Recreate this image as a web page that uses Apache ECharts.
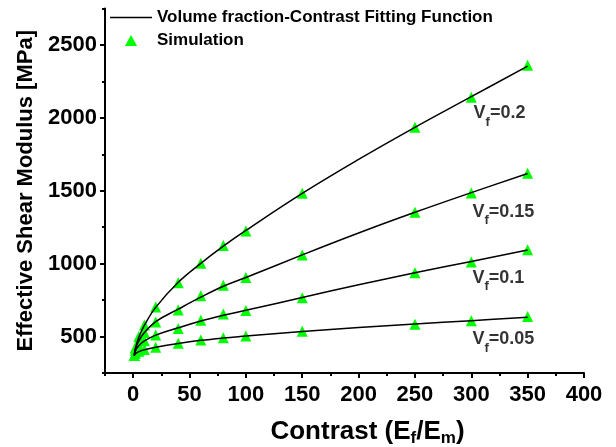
<!DOCTYPE html>
<html>
<head>
<meta charset="utf-8">
<script src="https://cdn.jsdelivr.net/npm/echarts@6/dist/echarts.min.js"></script>
<style>
  html, body { margin: 0; padding: 0; background: #fff; }
  #chart { width: 616px; height: 447px; }
</style>
</head>
<body>
<div id="chart"></div>
<script>
// Contrast ratios (Ef/Em) at which the simulations were run
const contrast = [1, 2, 5, 10, 20, 40, 60, 80, 100, 150, 250, 300, 350];

// Simulated effective shear modulus [MPa] for each fibre volume fraction
const simVf020 = [370, 425, 500, 580, 703, 869, 1002, 1125, 1224, 1482, 1935, 2142, 2360];
const simVf015 = [370, 420, 475, 528, 600, 682, 780, 852, 905, 1060, 1352, 1485, 1620];
const simVf010 = [370, 405, 440, 472, 510, 556, 612, 655, 678, 766, 937, 1012, 1095];
const simVf005 = [370, 385, 399, 412, 426, 454, 476, 492, 504, 536, 585, 608, 638];

// Fitted curves sampled along the contrast axis
const fitContrast = [1, 2, 5, 10, 20, 40, 60, 80, 100, 150, 200, 250, 300, 350];
const fitVf020 = [370, 420, 495, 578, 700, 872, 1002, 1120, 1228, 1482, 1715, 1935, 2145, 2355];
const fitVf015 = [370, 415, 470, 527, 603, 688, 770, 845, 905, 1060, 1210, 1352, 1487, 1618];
const fitVf010 = [370, 402, 437, 470, 510, 560, 607, 646, 680, 768, 855, 937, 1015, 1093];
const fitVf005 = [370, 383, 397, 410, 427, 453, 474, 490, 503, 535, 562, 586, 609, 632];

// Axis tick positions
const xMajorTicks = [0, 50, 100, 150, 200, 250, 300, 350, 400];
const xMinorTicks = [-25, 25, 75, 125, 175, 225, 275, 325, 375];
const yMajorTicks = [500, 1000, 1500, 2000, 2500];
const yMinorTicks = [250, 750, 1250, 1750, 2250, 2750];

// Curve annotations: volume fraction text and its anchor in data units
const curveLabelText = ['0.2', '0.15', '0.1', '0.05'];
const curveLabelX = [302, 301, 301, 301];
const curveLabelY = [2030, 1356, 904, 480];

const FONT = '"Liberation Sans", Arial, sans-serif';
const FIT_NAME = 'Volume fraction-Contrast Fitting Function';
const SIM_NAME = 'Simulation';
const GREEN = '#00ff00';

const pairs = (xs, ys) => xs.map((x, i) => [x, ys[i]]);

const fitSets = [fitVf020, fitVf015, fitVf010, fitVf005];
const simSets = [simVf020, simVf015, simVf010, simVf005];

const series = [];
simSets.forEach((ys) => {
  series.push({
    name: SIM_NAME,
    type: 'scatter',
    symbol: 'triangle',
    symbolSize: 11,
    itemStyle: { color: GREEN, opacity: 1 },
    z: 2,
    data: pairs(contrast, ys)
  });
});
fitSets.forEach((ys) => {
  series.push({
    name: FIT_NAME,
    type: 'line',
    smooth: 0.4,
    symbol: 'none',
    lineStyle: { color: '#000', width: 1.5 },
    itemStyle: { color: '#000' },
    z: 3,
    data: pairs(fitContrast, ys)
  });
});
series.push({
  type: 'scatter',
  symbolSize: 0,
  silent: true,
  z: 4,
  label: {
    show: true,
    position: 'right',
    distance: 0,
    formatter: (p) => '{v|V}{s|f}{v|=' + curveLabelText[p.dataIndex] + '}',
    rich: {
      v: { fontFamily: FONT, fontWeight: 'bold', fontSize: 18, color: '#000', lineHeight: 30, verticalAlign: 'middle' },
      s: { fontFamily: FONT, fontWeight: 'bold', fontSize: 13, color: '#000', lineHeight: 13, verticalAlign: 'bottom' }
    }
  },
  data: pairs(curveLabelX, curveLabelY)
});

const axisText = { fontFamily: FONT, fontWeight: 'bold', fontSize: 22, color: '#000', formatter: (v) => String(v) };

const option = {
  backgroundColor: '#fff',
  animation: false,
  grid: { left: 105, right: 32, top: 8.5, bottom: 74, outerBoundsMode: 'none', containLabel: false },
  legend: {
    orient: 'vertical',
    left: 105,
    top: 4,
    itemWidth: 42,
    itemHeight: 11,
    itemGap: 6,
    symbolKeepAspect: true,
    textStyle: { fontFamily: FONT, fontWeight: 'bold', fontSize: 17, color: '#000' },
    data: [
      { name: FIT_NAME, icon: 'path://M0,0H42V1.5H0Z' },
      { name: SIM_NAME, icon: 'path://M5,0L10,9L0,9Z' }
    ]
  },
  xAxis: [
    {
      type: 'value',
      min: -25,
      max: 400,
      splitLine: { show: false },
      axisLine: { onZero: false, lineStyle: { color: '#000', width: 2 } },
      axisTick: { customValues: xMajorTicks, length: 5, lineStyle: { color: '#000', width: 2 } },
      axisLabel: { customValues: xMajorTicks, margin: 11, ...axisText },
      name: '{t|Contrast (E}{s|f}{t|/E}{s|m}{t|)}',
      nameLocation: 'middle',
      nameGap: 44,
      nameTextStyle: {
        padding: [0, 0, 0, 46],
        rich: {
          t: { fontFamily: FONT, fontWeight: 'bold', fontSize: 26, color: '#000', lineHeight: 30, verticalAlign: 'middle' },
          s: { fontFamily: FONT, fontWeight: 'bold', fontSize: 17, color: '#000', lineHeight: 16, verticalAlign: 'bottom' }
        }
      }
    },
    {
      type: 'value',
      position: 'bottom',
      min: -25,
      max: 400,
      splitLine: { show: false },
      axisLine: { show: false, onZero: false },
      axisTick: { customValues: xMinorTicks, length: 3, lineStyle: { color: '#000', width: 2 } },
      axisLabel: { show: false }
    }
  ],
  yAxis: [
    {
      type: 'value',
      min: 250,
      max: 2750,
      splitLine: { show: false },
      axisLine: { onZero: false, lineStyle: { color: '#000', width: 2 } },
      axisTick: { customValues: yMajorTicks, length: 5, lineStyle: { color: '#000', width: 2 } },
      axisLabel: { customValues: yMajorTicks, margin: 8, ...axisText },
      name: 'Effective Shear Modulus [MPa]',
      nameLocation: 'middle',
      nameGap: 60,
      nameTextStyle: { fontFamily: FONT, fontWeight: 'bold', fontSize: 22, color: '#000' }
    },
    {
      type: 'value',
      position: 'left',
      min: 250,
      max: 2750,
      splitLine: { show: false },
      axisLine: { show: false, onZero: false },
      axisTick: { customValues: yMinorTicks, length: 3, lineStyle: { color: '#000', width: 2 } },
      axisLabel: { show: false }
    }
  ],
  series: series
};

const chart = echarts.init(document.getElementById('chart'), null, { renderer: 'canvas' });
chart.setOption(option);
</script>
</body>
</html>
